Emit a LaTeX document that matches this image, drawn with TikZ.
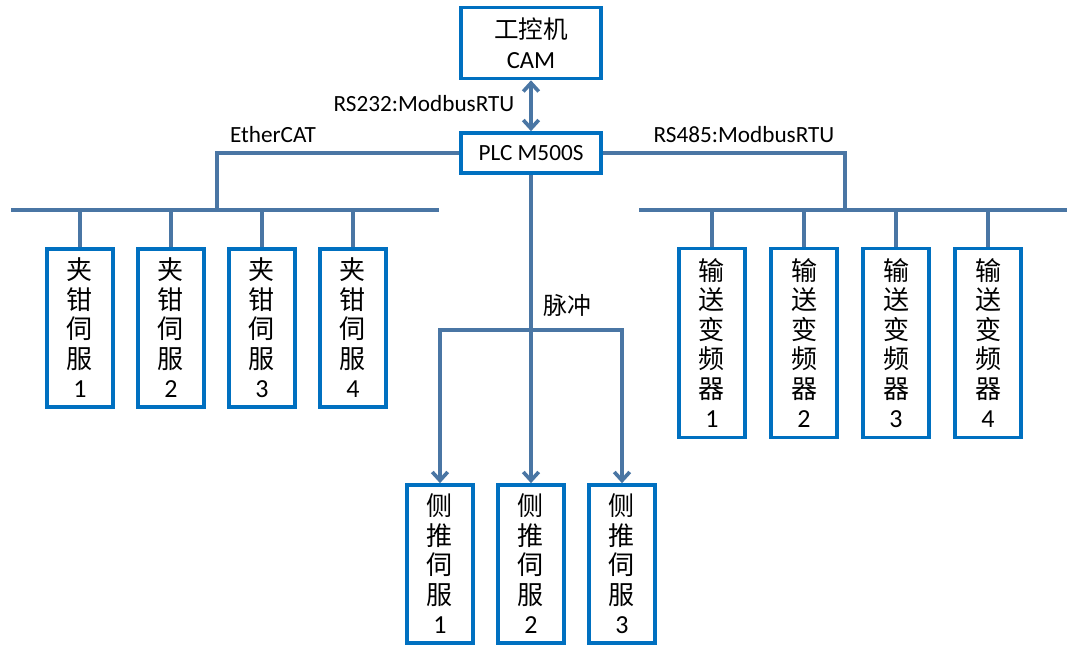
\documentclass[tikz,border=0pt]{standalone}
\usepackage{fontspec}
\setmainfont{Carlito}
\newfontfamily\cjk{Noto Sans CJK SC}
\usetikzlibrary{arrows.meta}
\definecolor{linkblue}{HTML}{4A76A4}
\definecolor{boxblue}{HTML}{0070C0}

\begin{document}
\begin{tikzpicture}[x=0.025cm,y=-0.025cm,
		box/.style={draw=boxblue,line width=2.6pt,fill=white,inner sep=0pt,align=center},
		slave/.style={box,minimum width=1.65cm,font=\cjk\fontsize{18.5}{21}\selectfont},
		link/.style={draw=linkblue,line width=2.6pt},
		tip/.tip={Straight Barb[length=6pt,width=11pt]},
		lbl/.style={font=\fontsize{16.5}{20}\selectfont,inner sep=0pt}]
			\useasboundingbox (0,0) rectangle (1080,656);
			% \draw[style=help lines,step=50] (0,0) grid (1080,656);

			% Steuerung oben
			\node[box,minimum width=3.5cm,minimum height=1.775cm,font=\fontsize{17.5}{21}\selectfont] (ipc) at (531,43) {{\cjk\fontsize{17.5}{21}\selectfont 工控机}\\CAM};
			\node[box,minimum width=3.5cm,minimum height=1cm,font=\fontsize{16.5}{20}\selectfont] (plc) at (531,153) {PLC M500S};

			% Antriebe
			\foreach \i/\x in {1/80,2/171,3/262,4/353}
			\node[slave,minimum height=3.95cm] (jq\i) at (\x,328) {夹\\钳\\伺\\服\\\rmfamily\i};
			\foreach \i/\x in {1/712,2/804,3/896,4/988}
			\node[slave,minimum height=4.725cm] (bp\i) at (\x,343) {输\\送\\变\\频\\器\\\rmfamily\i};
			\foreach \i/\x in {1/440,2/531,3/622}
			\node[slave,minimum height=3.95cm] (ct\i) at (\x,564) {侧\\推\\伺\\服\\\rmfamily\i};

			\coordinate (ebus) at (217,210);
			\coordinate (ebusL) at (11,210);
			\coordinate (ebusR) at (439,210);
			\coordinate (mbus) at (845,210);
			\coordinate (mbusL) at (639,210);
			\coordinate (mbusR) at (1067,210);
			\coordinate (pulse) at (531,330);

			% Verbindungen
			\draw[link,tip-tip] (ipc) -- (plc);
			\draw[link] (plc.west) -| (ebus);
			\draw[link] (ebusL) -- (ebusR);
			\foreach \i in {1,...,4}
			\draw[link] (jq\i.north) -- (jq\i.north |- ebus);
			\draw[link] (plc.east) -| (mbus);
			\draw[link] (mbusL) -- (mbusR);
			\foreach \i in {1,...,4}
			\draw[link] (bp\i.north) -- (bp\i.north |- mbus);
			\draw[link,-tip] (plc) -- (ct2);
			\draw[link,tip-tip] (ct1.north) |- (pulse) -| (ct3.north);

			% Beschriftungen
			\node[lbl] (rs232) at (424,104) {RS232:ModbusRTU};
			\node[lbl] (ecat) at (273,135) {EtherCAT};
			\node[lbl] (rs485) at (744,135) {RS485:ModbusRTU};
			\node[lbl,font=\cjk\fontsize{17}{20}\selectfont] (mc) at (567,305) {脉冲};
		\end{tikzpicture}
\end{document}
